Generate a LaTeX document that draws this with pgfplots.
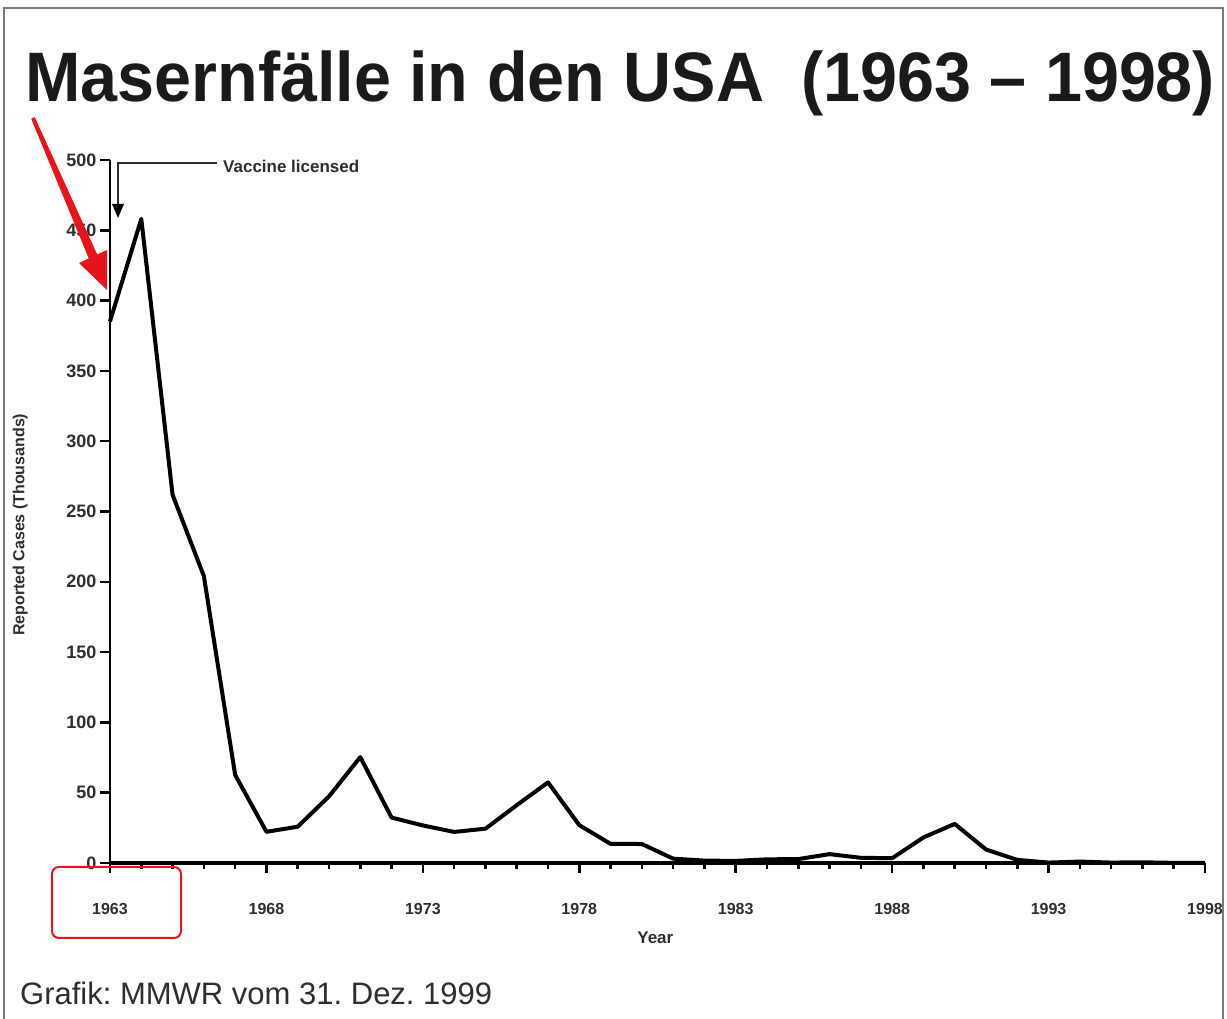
\documentclass[border=0pt]{standalone}
\usepackage{pgfplots}
\pgfplotsset{compat=1.18}
\usepackage{fontspec}
\setmainfont{Liberation Sans}
\usepackage{graphicx}
\usetikzlibrary{arrows.meta}
\definecolor{tickgray}{HTML}{2E2E2E}
\definecolor{framegray}{HTML}{7A7A7A}
\definecolor{arrowred}{HTML}{E8141A}
\definecolor{titleblack}{HTML}{1A1A1A}
\frenchspacing

\pgfplotstableread{
year cases
1963 385.2
1964 458.1
1965 261.9
1966 204.1
1967 62.7
1968 22.2
1969 25.8
1970 47.4
1971 75.3
1972 32.3
1973 26.7
1974 22.1
1975 24.4
1976 41.1
1977 57.3
1978 26.9
1979 13.6
1980 13.5
1981 3.1
1982 1.7
1983 1.5
1984 2.6
1985 2.8
1986 6.3
1987 3.7
1988 3.4
1989 18.2
1990 27.8
1991 9.6
1992 2.2
1993 0.3
1994 1.0
1995 0.3
1996 0.5
1997 0.1
1998 0.1
}\measles

\begin{document}
\begin{tikzpicture}[x=1bp,y=1bp]
\useasboundingbox (0,0) rectangle (1227,1019);
% frame
\draw[framegray, line width=2bp] (4,-5) -- (4,1011) -- (1223,1011) -- (1223,-5);
% title
\node[anchor=base west, inner sep=0pt, text=titleblack] at (25,917)
  {\resizebox{1190bp}{\height}{\fontsize{70bp}{80bp}\selectfont\bfseries Masernfälle in den USA\ \ (1963 – 1998)}};
% footer
\node[anchor=base west, inner sep=0pt, text=tickgray] at (20,14)
  {\fontsize{31bp}{36bp}\selectfont Grafik: MMWR vom 31. Dez. 1999};

\begin{axis}[
  at={(110bp,156bp)}, anchor=south west,
  scale only axis, width=1095bp, height=703bp,
  xmin=1963, xmax=1998, ymin=0, ymax=500,
  clip=false,
  axis x line*=bottom, axis y line*=left,
  x axis line style={line width=4bp},
  y axis line style={line width=2.5bp},
  tick align=outside,
  xtick={1963,1968,...,1998},
  minor x tick num=4,
  ytick={0,50,...,500},
  major tick length=10bp, minor tick length=6bp,
  every tick/.style={black, line width=2.5bp},
  x tick label style={/pgf/number format/1000 sep={}},
  /pgf/number format/assume math mode=true,
  xticklabel style={font=\fontsize{16bp}{18bp}\selectfont\bfseries, text=tickgray, yshift=-27bp},
  yticklabel style={font=\fontsize{18bp}{20bp}\selectfont\bfseries, text=tickgray},
  xlabel={Year},
  ylabel={Reported Cases (Thousands)},
  xlabel style={at={(axis description cs:0.498,-0.107)}, anchor=center, font=\fontsize{17bp}{19bp}\selectfont\bfseries, text=tickgray},
  ylabel style={at={(axis description cs:-0.082,0.481)}, anchor=center, font=\fontsize{16bp}{18bp}\selectfont\bfseries, text=tickgray},
]
\addplot[black, line width=4bp, line join=round] table[x=year, y=cases] {\measles};
\end{axis}

% annotations in image coordinates
\begin{scope}[shift={(0,1019)}, yscale=-1]
  % vaccine licensed
  \draw[tickgray, line width=2bp] (217,163) -- (118,163) -- (118,205);
  \fill[black] (112,204) -- (124,204) -- (118,218) -- cycle;
  \node[anchor=west, inner sep=0pt, text=tickgray] at (223,166)
    {\fontsize{17bp}{19bp}\selectfont\bfseries Vaccine licensed};
  % red arrow
  \fill[arrowred] (31.2,118.8) -- (34.8,117.2) -- (97.2,254.5) -- (107,250) -- (107,290) -- (79,263) -- (88.8,258.5) -- cycle;
  % red box
  \draw[arrowred, line width=2bp, rounded corners=7bp] (52,867) rectangle (181,938);
\end{scope}
\end{tikzpicture}
\end{document}
